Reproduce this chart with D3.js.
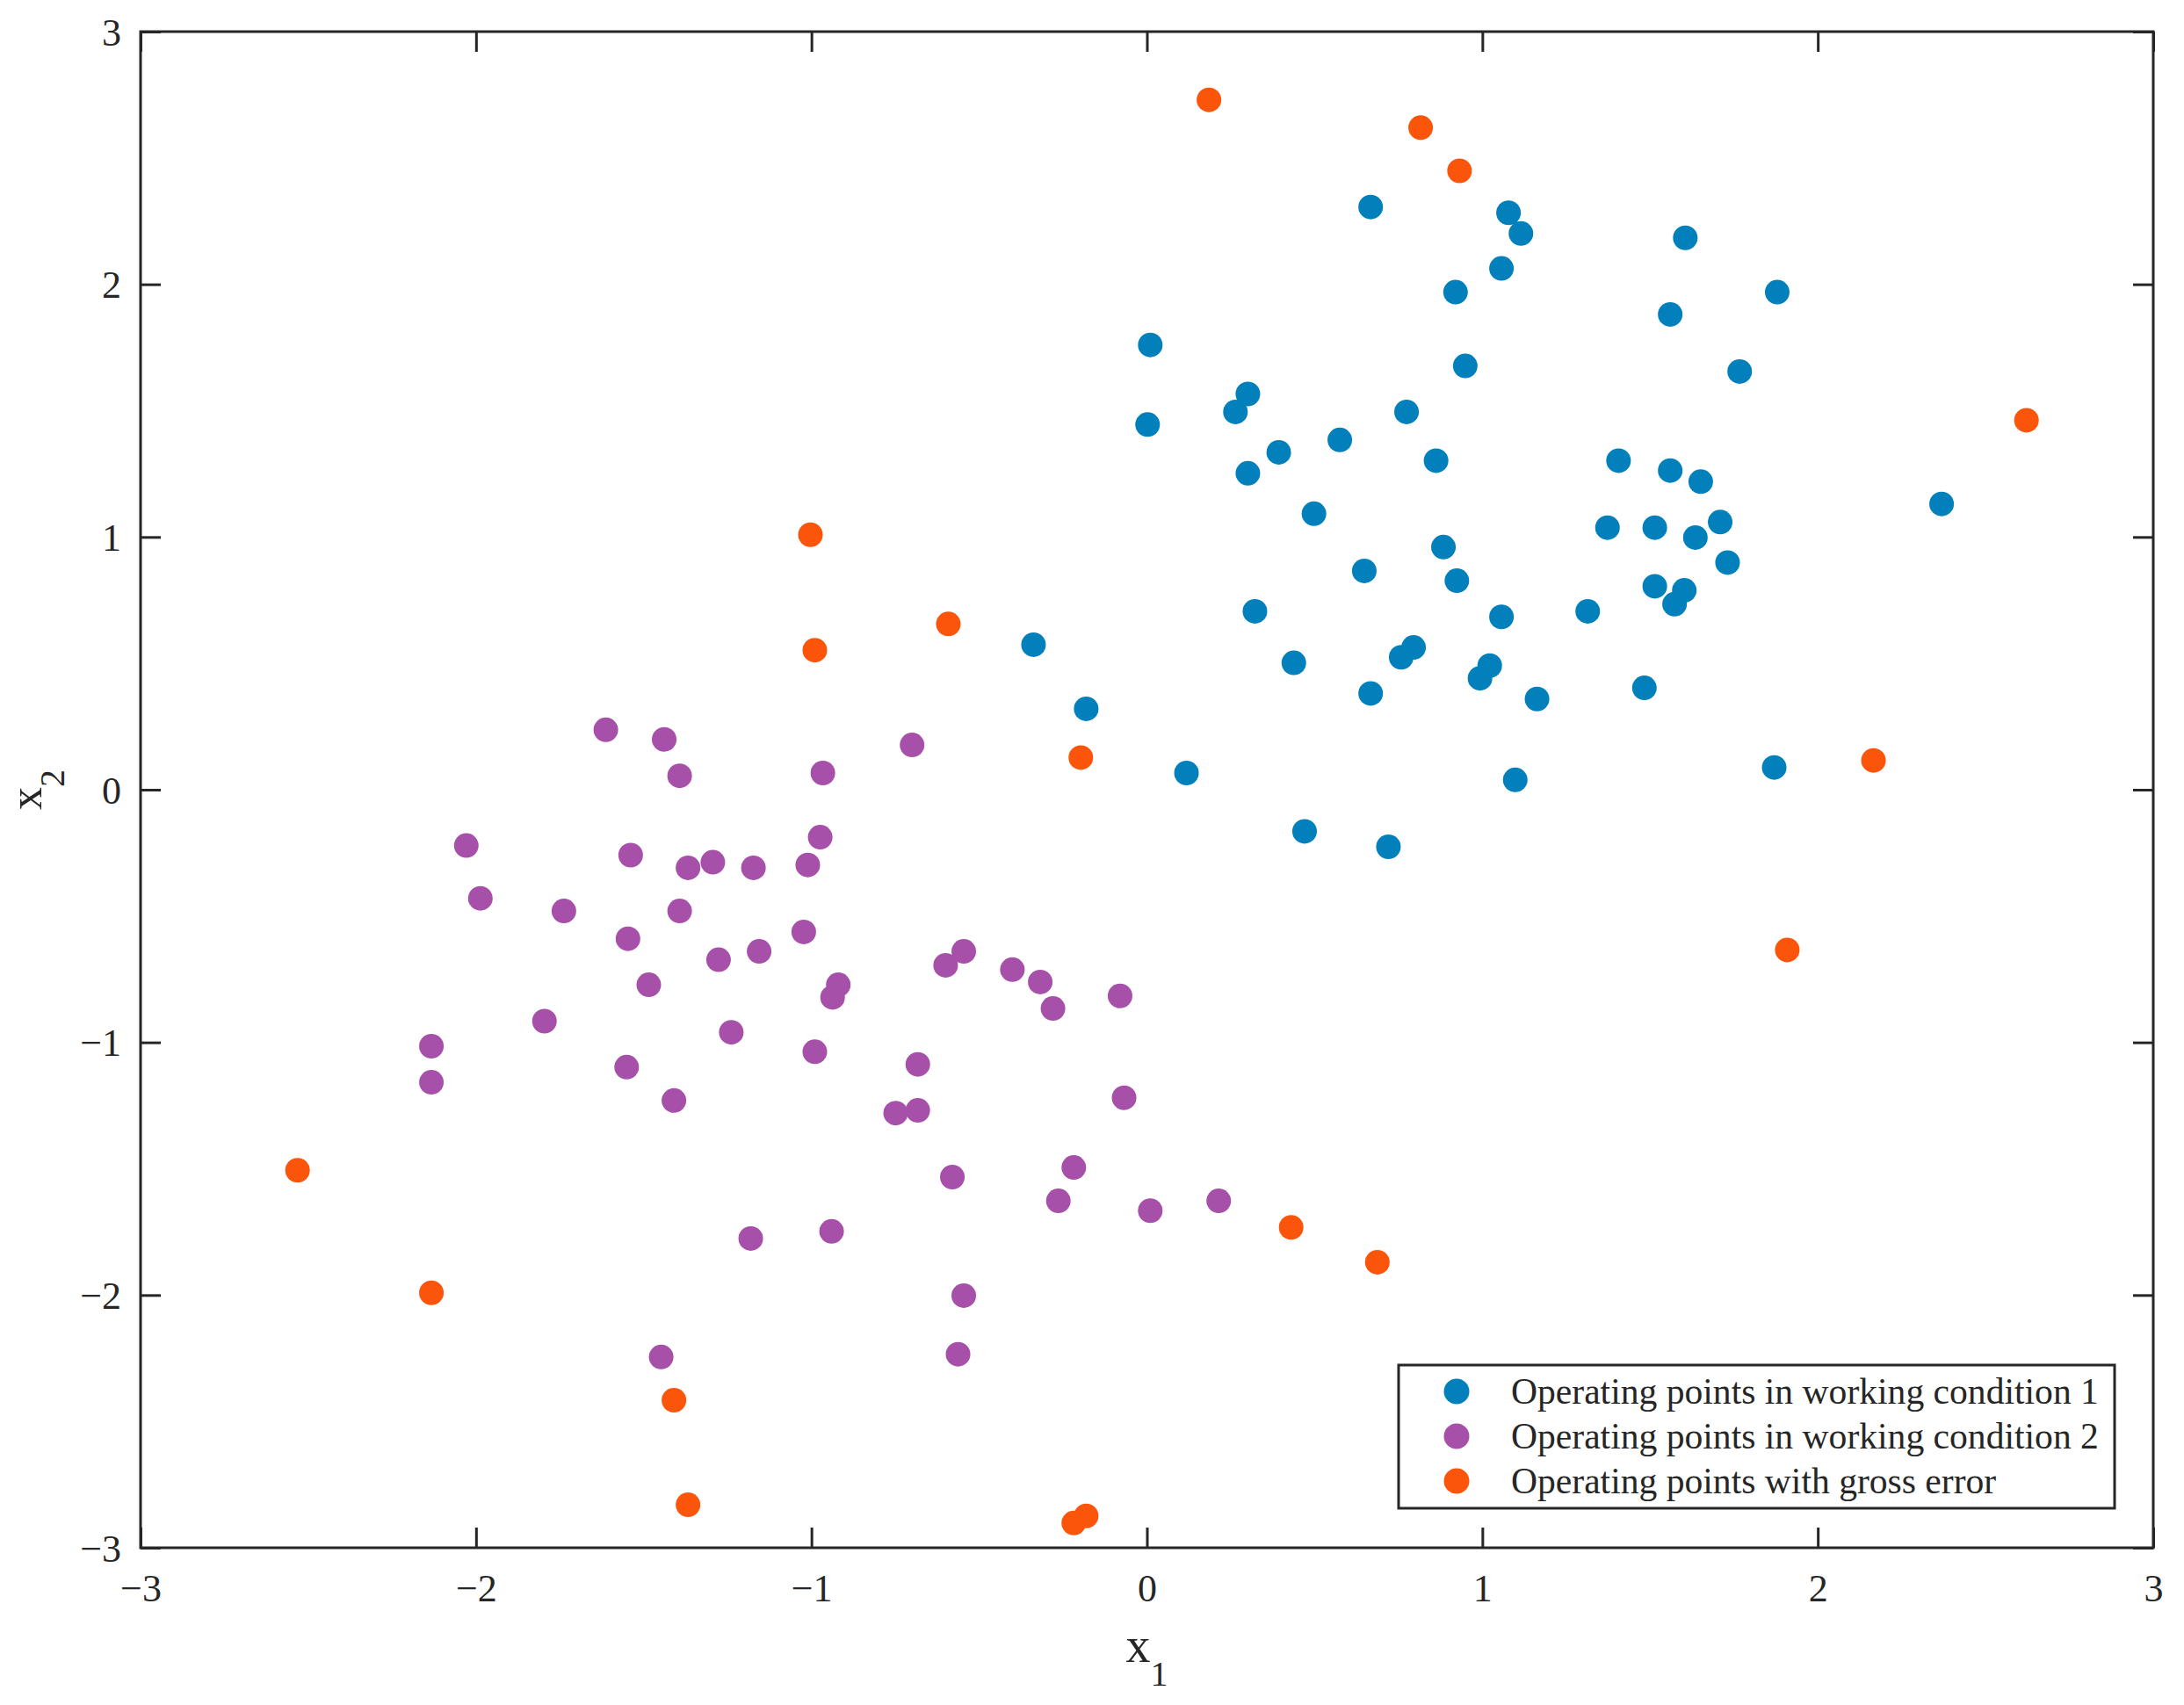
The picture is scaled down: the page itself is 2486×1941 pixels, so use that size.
<!DOCTYPE html>
<html>
<head>
<meta charset="utf-8">
<script src="https://cdn.jsdelivr.net/npm/d3@7"></script>
<style>
  html, body { margin: 0; padding: 0; background: #fff; }
  svg { display: block; }
  text { font-family: "Liberation Serif", "Times New Roman", serif; fill: #262626; }
</style>
</head>
<body>
<script>
// ---- data ----
const cond1X = [0.667, 1.078, 1.115, 1.605, 1.057, 0.920, 1.879, 1.560, 0.010, 0.949, 1.767, 0.301, 0.264, 0.774, 0.002, 0.575, 0.393, 0.862, 1.406, 1.560, 0.301, 1.651, 2.369, 0.498, 1.709, 1.373, 1.514, 1.635, 0.884, 1.731, 0.648, 0.924, 1.514, 1.602, 1.573, 0.322, 1.314, 1.057, -0.338, 0.795, 0.758, 0.438, 1.022, 0.993, 1.483, 0.667, 1.163, -0.181, 1.870, 0.118, 1.098, 0.470, 0.720];
const cond1Y = [2.306, 2.283, 2.201, 2.184, 2.063, 1.969, 1.969, 1.881, 1.760, 1.677, 1.655, 1.566, 1.495, 1.495, 1.445, 1.384, 1.335, 1.302, 1.302, 1.263, 1.252, 1.219, 1.131, 1.092, 1.059, 1.037, 1.037, 0.998, 0.960, 0.899, 0.866, 0.827, 0.805, 0.789, 0.734, 0.706, 0.706, 0.684, 0.574, 0.563, 0.524, 0.502, 0.491, 0.441, 0.403, 0.381, 0.359, 0.320, 0.088, 0.066, 0.039, -0.165, -0.226];

const cond2X = [-1.613, -1.439, -0.700, -1.393, -0.966, -0.974, -2.029, -1.539, -1.294, -1.368, -1.173, -1.011, -1.987, -1.738, -1.393, -1.156, -1.023, -1.547, -1.277, -0.546, -0.600, -0.401, -0.318, -1.485, -0.920, -0.937, -0.080, -0.280, -1.796, -1.239, -2.133, -0.990, -1.551, -0.683, -2.133, -1.410, -0.068, -0.683, -0.749, -0.218, -0.580, -0.264, 0.214, 0.010, -0.940, -1.181, -0.546, -1.448, -0.563];
const cond2Y = [0.237, 0.199, 0.177, 0.055, 0.066, -0.188, -0.221, -0.259, -0.287, -0.309, -0.309, -0.298, -0.430, -0.480, -0.480, -0.640, -0.563, -0.590, -0.673, -0.640, -0.695, -0.712, -0.761, -0.772, -0.772, -0.822, -0.816, -0.866, -0.916, -0.960, -1.015, -1.037, -1.098, -1.087, -1.158, -1.230, -1.219, -1.269, -1.280, -1.495, -1.533, -1.627, -1.627, -1.666, -1.748, -1.776, -2.002, -2.245, -2.234];

const grossX = [0.185, 0.816, 0.932, 2.622, -1.003, -0.990, -0.592, -0.197, 2.166, 1.909, -2.532, 0.430, 0.687, -2.133, -1.410, -1.368, -0.181, -0.218];
const grossY = [2.730, 2.620, 2.449, 1.462, 1.009, 0.552, 0.656, 0.127, 0.116, -0.634, -1.506, -1.732, -1.870, -1.991, -2.416, -2.830, -2.874, -2.902];

const seriesNames = ["Operating points in working condition 1", "Operating points in working condition 2", "Operating points with gross error"];
const seriesColors = ["#0280bb", "#a650a9", "#fb540b"];
const xTicks = [-3, -2, -1, 0, 1, 2, 3];
const yTicks = [-3, -2, -1, 0, 1, 2, 3];
const xDomain = [-3, 3];
const yDomain = [-3, 3];

// ---- layout ----
const W = 2486, H = 1941;
const L = 160, R = 2451, T = 36, B = 1762;
const axisColor = "#262626";

const svg = d3.select("body").append("svg").attr("width", W).attr("height", H);

const x = d3.scaleLinear().domain(xDomain).range([L, R]);
const y = d3.scaleLinear().domain(yDomain).range([B, T]);

const fmt = d3.format("");

// points
const series = [
  { xs: cond1X, ys: cond1Y },
  { xs: cond2X, ys: cond2Y },
  { xs: grossX, ys: grossY }
];
series.forEach((s, i) => {
  const pts = s.xs.map((v, k) => [v, s.ys[k]]);
  svg.append("g").selectAll("circle").data(pts).join("circle")
    .attr("cx", d => x(d[0])).attr("cy", d => y(d[1]))
    .attr("r", 14).attr("fill", seriesColors[i]);
});

// axes
const tickLen = 23;
const gB = svg.append("g").attr("transform", `translate(0,${B})`)
  .call(d3.axisBottom(x).tickValues(xTicks).tickSize(-tickLen).tickFormat(fmt));
gB.selectAll("text").attr("y", 61).attr("dy", null).style("font-size", "44px");

const gL = svg.append("g").attr("transform", `translate(${L},0)`)
  .call(d3.axisLeft(y).tickValues(yTicks).tickSize(-tickLen).tickFormat(fmt));
gL.selectAll("text").attr("x", -22).attr("dy", null).attr("y", 15).style("font-size", "44px");

const gT = svg.append("g").attr("transform", `translate(0,${T})`)
  .call(d3.axisTop(x).tickValues(xTicks).tickSize(-tickLen).tickFormat(""));
const gR = svg.append("g").attr("transform", `translate(${R},0)`)
  .call(d3.axisRight(y).tickValues(yTicks).tickSize(-tickLen).tickFormat(""));

[gB, gL, gT, gR].forEach(g => {
  g.select(".domain").remove();
  g.selectAll(".tick line").attr("stroke", axisColor).attr("stroke-width", 3);
  g.selectAll("text").attr("fill", axisColor).style("font-family", '"Liberation Serif", "Times New Roman", serif');
});

svg.append("rect")
  .attr("x", L).attr("y", T).attr("width", R - L).attr("height", B - T)
  .attr("fill", "none").attr("stroke", axisColor).attr("stroke-width", 3);

// axis labels
const xl = svg.append("text").attr("x", (L + R) / 2).attr("y", 1892)
  .attr("text-anchor", "middle").style("font-size", "56px");
xl.append("tspan").text("x");
xl.append("tspan").attr("dy", 27).style("font-size", "40px").text("1");

const yl = svg.append("text").attr("transform", `translate(47,${(T + B) / 2}) rotate(-90)`)
  .attr("text-anchor", "middle").style("font-size", "52px");
yl.append("tspan").text("x");
yl.append("tspan").attr("dy", 26).style("font-size", "40px").text("2");

// legend
const lg = svg.append("g").attr("transform", "translate(1592,1554)");
lg.append("rect").attr("x", 0).attr("y", 0).attr("width", 815).attr("height", 163)
  .attr("fill", "#fff").attr("stroke", axisColor).attr("stroke-width", 3);
const rowsY = [30, 81, 132];
seriesNames.forEach((name, i) => {
  lg.append("circle").attr("cx", 66).attr("cy", rowsY[i]).attr("r", 14.5).attr("fill", seriesColors[i]);
  lg.append("text").attr("x", 128).attr("y", rowsY[i] + 14)
    .style("font-size", "41.6px").attr("fill", "#000").text(name);
});
</script>
</body>
</html>
